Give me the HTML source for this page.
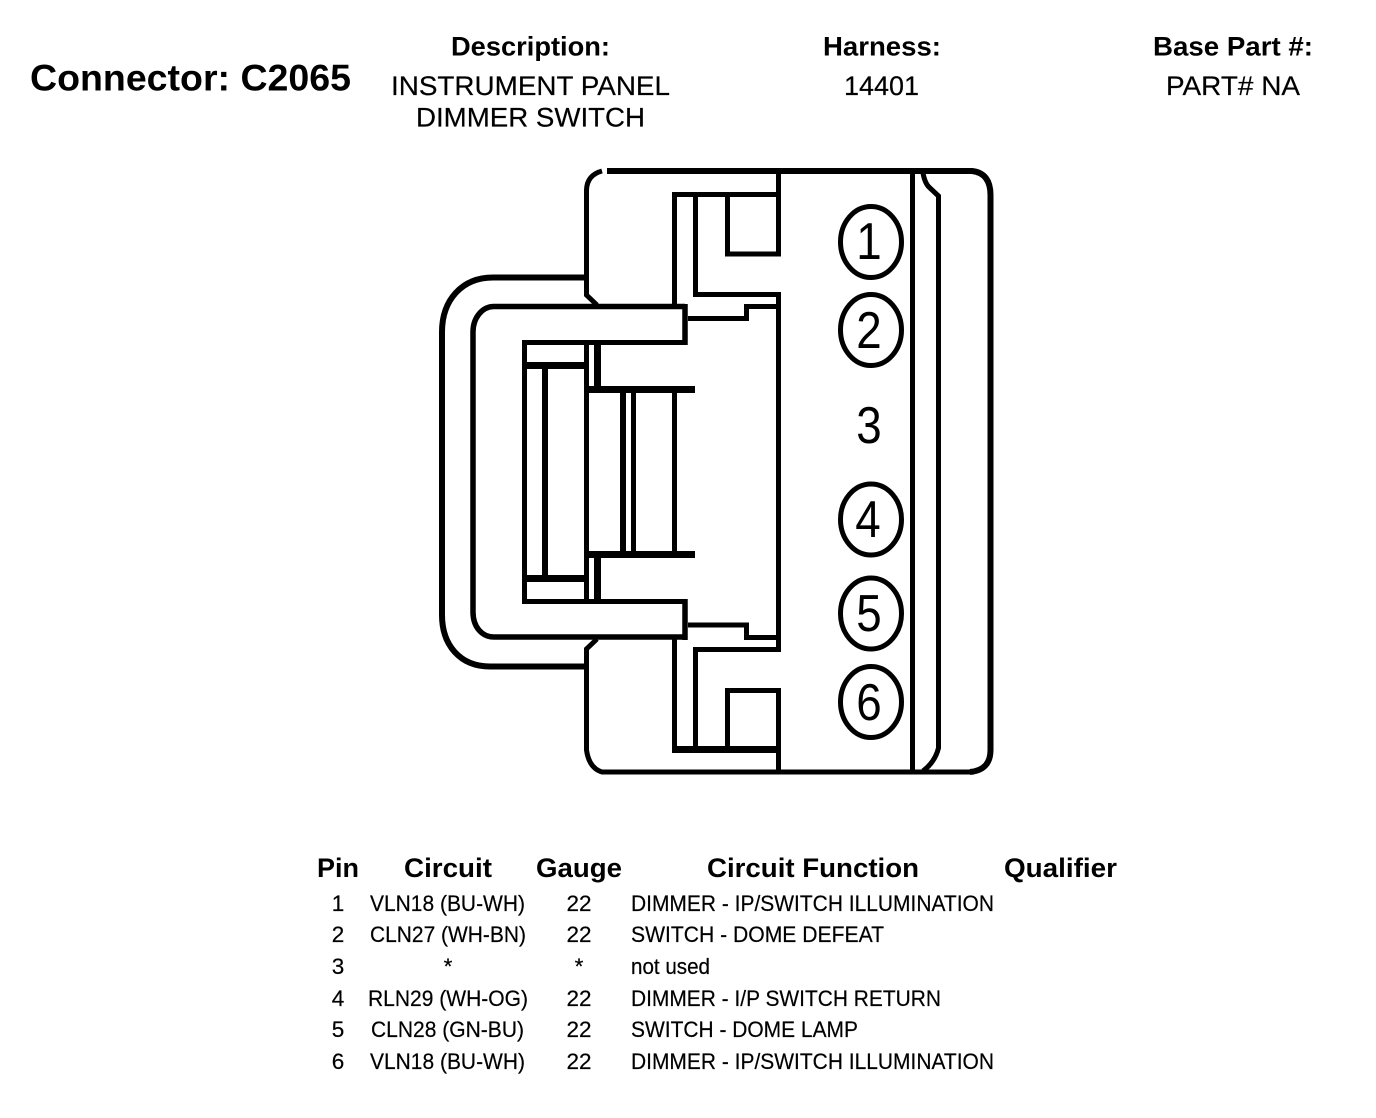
<!DOCTYPE html>
<html lang="en">
<head>
<meta charset="utf-8">
<title>Connector C2065</title>
<style>
html,body{margin:0;padding:0;background:#fff;width:1376px;height:1118px;overflow:hidden}
svg{display:block}
text{font-family:"Liberation Sans",Arial,sans-serif;fill:#000}
.b{font-weight:bold}
.h{font-size:27px}
.r{font-size:27px;stroke:#000;stroke-width:.2}
.t{font-size:22.5px;stroke:#000;stroke-width:.2}
.d{font-size:52px;text-anchor:middle}
.l{fill:none;stroke:#000;stroke-linejoin:miter;stroke-linecap:butt}
</style>
</head>
<body>
<svg width="1376" height="1118" viewBox="0 0 1376 1118" xmlns="http://www.w3.org/2000/svg">
<rect width="1376" height="1118" fill="#fff"/>

<!-- Header -->
<text class="b" x="30" y="90.500" font-size="37.500" textLength="321" lengthAdjust="spacingAndGlyphs">Connector: C2065</text>
<text class="b h" x="451" y="55.500" textLength="159" lengthAdjust="spacingAndGlyphs">Description:</text>
<text class="r" x="391" y="95" textLength="279" lengthAdjust="spacingAndGlyphs">INSTRUMENT PANEL</text>
<text class="r" x="416" y="126.500" textLength="229" lengthAdjust="spacingAndGlyphs">DIMMER SWITCH</text>
<text class="b h" x="823" y="55.500" textLength="118" lengthAdjust="spacingAndGlyphs">Harness:</text>
<text class="r" x="844" y="95" textLength="75" lengthAdjust="spacingAndGlyphs">14401</text>
<text class="b h" x="1153" y="55.500" textLength="160" lengthAdjust="spacingAndGlyphs">Base Part #:</text>
<text class="r" x="1166" y="95" textLength="134" lengthAdjust="spacingAndGlyphs">PART# NA</text>

<!-- Connector drawing -->
<g class="l">
  <!-- Body outline -->
  <path class="l" stroke-width="6" d="M607 171H972Q990.500 173 990.500 195V750Q990.500 770 970 772"/>
  <path class="l" stroke-width="5" d="M602 171Q587 175 586.500 190V295L597 305"/>
  <path class="l" stroke-width="5" d="M597 639L586.500 649V750Q589 768 602 772H972"/>
  <!-- Latch outer -->
  <path class="l" stroke-width="6" d="M586 277.500H493C462 277.500 442 300 442 332V615C442 645 460 666.500 490 666.500H586"/>
  <!-- Latch inner -->
  <path class="l" stroke-width="5.500" d="M685 306.500H494C482 306.500 473 318 473 332V612C473 627 482 637 494 637H685"/>
  <path class="l" stroke-width="5.500" d="M685 304V345"/>
  <path class="l" stroke-width="5.500" d="M685 599V640"/>
  <path class="l" stroke-width="5" d="M687 342.500H524.500V601.500H687"/>
  <!-- Inner compartments -->
  <path class="l" stroke-width="7" d="M524 365.500H587"/>
  <path class="l" stroke-width="7" d="M524 578.500H587"/>
  <path class="l" stroke-width="6" d="M545 365V578"/>
  <path class="l" stroke-width="5" d="M586.500 342V601"/>
  <path class="l" stroke-width="7" d="M597.500 342V386"/>
  <path class="l" stroke-width="7" d="M597.500 555V601"/>
  <path class="l" stroke-width="7" d="M586 389.500H695"/>
  <path class="l" stroke-width="7" d="M586 554.500H695"/>
  <path class="l" stroke-width="6" d="M623 389V554"/>
  <path class="l" stroke-width="5" d="M633.500 389V554"/>
  <path class="l" stroke-width="5" d="M674.500 389V554"/>
  <!-- Upper cavity -->
  <path class="l" stroke-width="5" d="M674.500 306V194.500H780"/>
  <path class="l" stroke-width="5" d="M695.500 194.500V294.500H781"/>
  <path class="l" stroke-width="5" d="M727.500 194.500V254H778.500V171"/>
  <path class="l" stroke-width="5" d="M778.500 292V652"/>
  <path class="l" stroke-width="5" d="M688 318.500H746.500V306.500H778"/>
  <!-- Lower cavity -->
  <path class="l" stroke-width="5" d="M688 625H746.500V637.500H778"/>
  <path class="l" stroke-width="5" d="M695.500 750V649.500H781"/>
  <path class="l" stroke-width="5" d="M674.500 637V749.500"/>
  <path class="l" stroke-width="7" d="M672 749.500H778"/>
  <path class="l" stroke-width="5" d="M727.500 750V690.500H778.500V772"/>
  <!-- Right side -->
  <path class="l" stroke-width="5" d="M912.500 171V772"/>
  <path class="l" stroke-width="5" d="M923 173Q925 184 930 188L938.500 196V748Q935 762 923 771"/>
  <!-- Pin circles -->
  <ellipse class="l" stroke-width="5" cx="871" cy="242" rx="30.500" ry="35.500"/>
  <ellipse class="l" stroke-width="5" cx="871" cy="330" rx="30.500" ry="35.500"/>
  <ellipse class="l" stroke-width="5" cx="871" cy="519.500" rx="30.500" ry="35.500"/>
  <ellipse class="l" stroke-width="5" cx="871" cy="613.500" rx="30.500" ry="35.500"/>
  <ellipse class="l" stroke-width="5" cx="871" cy="702" rx="30.500" ry="35.500"/>
</g>

<!-- Pin numbers -->
<text class="d" transform="translate(869 259) scale(.88 1)">1</text>
<text class="d" transform="translate(869 348) scale(.88 1)">2</text>
<text class="d" transform="translate(869 443) scale(.88 1)">3</text>
<text class="d" transform="translate(868 537) scale(.88 1)">4</text>
<text class="d" transform="translate(869 631) scale(.88 1)">5</text>
<text class="d" transform="translate(869 720) scale(.88 1)">6</text>

<!-- Table header -->
<text class="b h" x="317" y="877" textLength="42" lengthAdjust="spacingAndGlyphs">Pin</text>
<text class="b h" x="404" y="877" textLength="88" lengthAdjust="spacingAndGlyphs">Circuit</text>
<text class="b h" x="536" y="877" textLength="86" lengthAdjust="spacingAndGlyphs">Gauge</text>
<text class="b h" x="707" y="877" textLength="212" lengthAdjust="spacingAndGlyphs">Circuit Function</text>
<text class="b h" x="1004" y="877" textLength="113" lengthAdjust="spacingAndGlyphs">Qualifier</text>

<!-- Table rows -->
<g>
<text class="t" x="338" y="911" text-anchor="middle">1</text>
<text class="t" x="370" y="911" textLength="155" lengthAdjust="spacingAndGlyphs">VLN18 (BU-WH)</text>
<text class="t" x="579" y="911" text-anchor="middle">22</text>
<text class="t" x="631" y="911" textLength="363" lengthAdjust="spacingAndGlyphs">DIMMER - IP/SWITCH ILLUMINATION</text>

<text class="t" x="338" y="942" text-anchor="middle">2</text>
<text class="t" x="370" y="942" textLength="156" lengthAdjust="spacingAndGlyphs">CLN27 (WH-BN)</text>
<text class="t" x="579" y="942" text-anchor="middle">22</text>
<text class="t" x="631" y="942" textLength="253" lengthAdjust="spacingAndGlyphs">SWITCH - DOME DEFEAT</text>

<text class="t" x="338" y="974" text-anchor="middle">3</text>
<text class="t" x="448" y="974" text-anchor="middle">*</text>
<text class="t" x="579" y="974" text-anchor="middle">*</text>
<text class="t" x="631" y="974" textLength="79" lengthAdjust="spacingAndGlyphs">not used</text>

<text class="t" x="338" y="1006" text-anchor="middle">4</text>
<text class="t" x="368" y="1006" textLength="160" lengthAdjust="spacingAndGlyphs">RLN29 (WH-OG)</text>
<text class="t" x="579" y="1006" text-anchor="middle">22</text>
<text class="t" x="631" y="1006" textLength="310" lengthAdjust="spacingAndGlyphs">DIMMER - I/P SWITCH RETURN</text>

<text class="t" x="338" y="1037" text-anchor="middle">5</text>
<text class="t" x="371" y="1037" textLength="153" lengthAdjust="spacingAndGlyphs">CLN28 (GN-BU)</text>
<text class="t" x="579" y="1037" text-anchor="middle">22</text>
<text class="t" x="631" y="1037" textLength="227" lengthAdjust="spacingAndGlyphs">SWITCH - DOME LAMP</text>

<text class="t" x="338" y="1069" text-anchor="middle">6</text>
<text class="t" x="370" y="1069" textLength="155" lengthAdjust="spacingAndGlyphs">VLN18 (BU-WH)</text>
<text class="t" x="579" y="1069" text-anchor="middle">22</text>
<text class="t" x="631" y="1069" textLength="363" lengthAdjust="spacingAndGlyphs">DIMMER - IP/SWITCH ILLUMINATION</text>
</g>
</svg>
</body>
</html>
